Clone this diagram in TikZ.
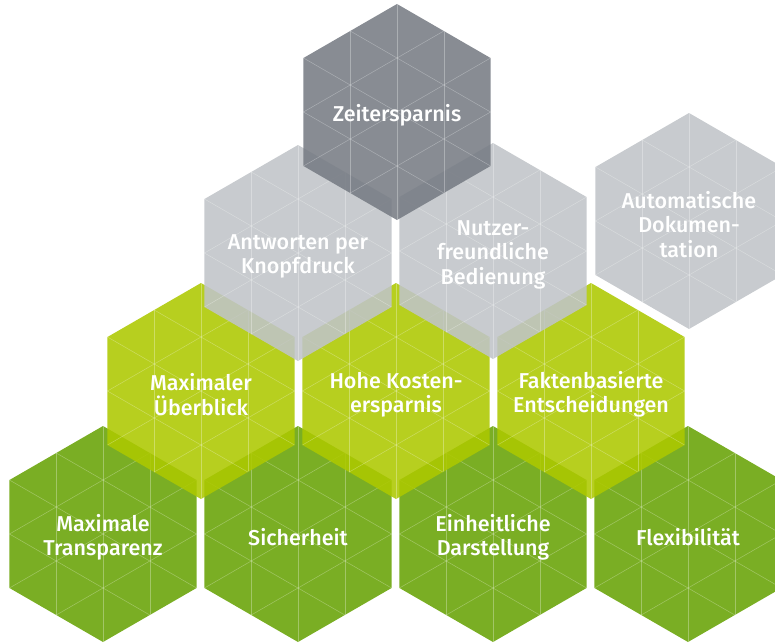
\documentclass[tikz,border=0pt]{standalone}
\usepackage{fontspec}
\setmainfont{Fira Sans}[BoldFont={Fira Sans Medium}]
\usetikzlibrary{shapes.geometric}

\definecolor{slategrey}{RGB}{119,124,132}
\definecolor{mistgrey}{RGB}{192,196,200}
\definecolor{limegreen}{RGB}{173,200,0}
\definecolor{grassgreen}{RGB}{104,163,6}

\tikzset{
  hexgrid/.style={draw=white, draw opacity=0.3, line width=0.5pt},
  hexlabel/.style={text=white, align=center, inner sep=0pt, yshift=-3.5pt,
    font=\bfseries\fontsize{21.5}{24.5}\selectfont},
  hexcell/.style={regular polygon, regular polygon sides=6, shape border rotate=90,
    minimum size=216pt, inner sep=0pt, fill=#1, fill opacity=0.88,
    path picture={
      \foreach \a in {90,30,-30}
        \foreach \k in {-1,0,1}
          \draw[hexgrid] ([shift={(\a+90:\k*46.77pt)}]path picture bounding box.center)
            ++(\a:-130pt) -- ++(\a:260pt);
    }},
}

\begin{document}
\begin{tikzpicture}[x=1pt,y=-1pt]
\useasboundingbox (0,0) rectangle (775,642);

% Bottom row
\node[hexcell=grassgreen, label={[hexlabel]center:Maximale\\Transparenz}] (transparenz) at (103,534) {};
\node[hexcell=grassgreen, label={[hexlabel]center:Sicherheit}] (sicherheit) at (298,534) {};
\node[hexcell=grassgreen, label={[hexlabel]center:Einheitliche\\Darstellung}] (darstellung) at (493,534) {};
\node[hexcell=grassgreen, label={[hexlabel]center:Flexibilität}] (flexibel) at (688,534) {};

% Second row
\node[hexcell=limegreen, label={[hexlabel]center:Maximaler\\Überblick}] (ueberblick) at (201,391) {};
\node[hexcell=limegreen, label={[hexlabel]center:Hohe Kosten-\\ersparnis}] (kosten) at (396,391) {};
\node[hexcell=limegreen, label={[hexlabel]center:Faktenbasierte\\Entscheidungen}] (fakten) at (591,391) {};

% Third row
\node[hexcell=mistgrey, label={[hexlabel]center:Antworten per\\Knopfdruck}] (antworten) at (298,253) {};
\node[hexcell=mistgrey, label={[hexlabel]center:Nutzer-\\freundliche\\Bedienung}] (bedienung) at (493,251) {};
\node[hexcell=mistgrey, label={[hexlabel]center:Automatische\\Dokumen-\\tation}] (doku) at (689,221) {};

% Top
\node[hexcell=slategrey, label={[hexlabel]center:Zeitersparnis}] (zeit) at (397,112) {};

\end{tikzpicture}
\end{document}
